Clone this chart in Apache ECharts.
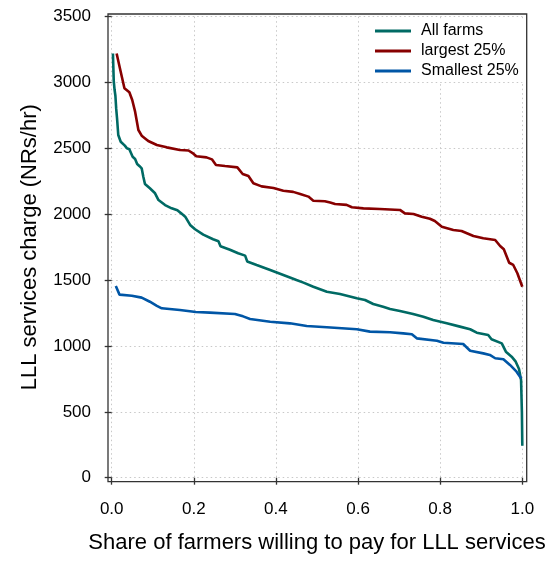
<!DOCTYPE html>
<html>
<head>
<meta charset="utf-8">
<script src="https://cdn.jsdelivr.net/npm/echarts@6/dist/echarts.min.js"></script>
<style>html,body{margin:0;padding:0;background:#fff;}#c{width:551px;height:561px;}</style>
</head>
<body>
<div id="c"></div>
<script>
// ---- data ----
const seriesNames = ['All farms', 'largest 25%', 'Smallest 25%'];
const xTicks = [0, 0.2, 0.4, 0.6, 0.8, 1.0];
const yTicks = [0, 500, 1000, 1500, 2000, 2500, 3000, 3500];

const allX = [0.003, 0.005, 0.007, 0.009, 0.011, 0.013, 0.016, 0.022, 0.032, 0.037, 0.043, 0.046, 0.051, 0.057, 0.062, 0.068, 0.073, 0.077, 0.081, 0.093, 0.105, 0.114, 0.130, 0.146, 0.160, 0.170, 0.179, 0.191, 0.203, 0.223, 0.247, 0.260, 0.265, 0.288, 0.308, 0.325, 0.330, 0.353, 0.386, 0.418, 0.450, 0.467, 0.491, 0.524, 0.556, 0.597, 0.617, 0.637, 0.661, 0.678, 0.702, 0.734, 0.759, 0.783, 0.816, 0.848, 0.873, 0.889, 0.917, 0.925, 0.950, 0.960, 0.974, 0.984, 0.992, 0.997, 0.999, 1.000];
const allY = [3220, 3010, 2945, 2900, 2800, 2729, 2602, 2551, 2521, 2501, 2494, 2483, 2437, 2420, 2382, 2365, 2349, 2285, 2230, 2197, 2162, 2108, 2070, 2045, 2030, 2005, 1982, 1919, 1886, 1845, 1810, 1795, 1757, 1731, 1704, 1686, 1642, 1615, 1577, 1539, 1501, 1481, 1450, 1412, 1395, 1362, 1349, 1319, 1298, 1281, 1266, 1243, 1222, 1197, 1172, 1147, 1127, 1101, 1083, 1051, 1020, 957, 919, 881, 825, 742, 500, 243];

const largeX = [0.012, 0.020, 0.031, 0.043, 0.050, 0.057, 0.065, 0.073, 0.089, 0.110, 0.134, 0.166, 0.187, 0.199, 0.206, 0.231, 0.244, 0.254, 0.276, 0.306, 0.319, 0.333, 0.345, 0.365, 0.394, 0.418, 0.442, 0.459, 0.479, 0.491, 0.519, 0.532, 0.544, 0.572, 0.585, 0.613, 0.653, 0.702, 0.714, 0.735, 0.755, 0.775, 0.787, 0.804, 0.832, 0.852, 0.881, 0.905, 0.934, 0.946, 0.955, 0.968, 0.978, 0.988, 1.000];
const largeY = [3220, 3108, 2957, 2926, 2868, 2779, 2640, 2597, 2556, 2526, 2508, 2488, 2484, 2460, 2440, 2432, 2417, 2374, 2366, 2356, 2306, 2290, 2235, 2212, 2200, 2178, 2170, 2154, 2134, 2103, 2099, 2090, 2078, 2071, 2053, 2045, 2040, 2033, 2007, 2002, 1982, 1966, 1949, 1906, 1881, 1873, 1835, 1818, 1805, 1759, 1734, 1632, 1615, 1552, 1450];

const smallX = [0.010, 0.019, 0.049, 0.073, 0.093, 0.110, 0.122, 0.166, 0.205, 0.239, 0.300, 0.320, 0.337, 0.386, 0.434, 0.475, 0.524, 0.597, 0.629, 0.678, 0.710, 0.731, 0.743, 0.792, 0.808, 0.856, 0.873, 0.905, 0.921, 0.934, 0.954, 0.970, 0.986, 0.997];
const smallY = [1455, 1390, 1382, 1367, 1336, 1305, 1286, 1273, 1258, 1253, 1243, 1225, 1205, 1184, 1172, 1152, 1142, 1127, 1109, 1104, 1096, 1089, 1058, 1040, 1025, 1015, 964, 944, 932, 907, 899, 856, 805, 755];

const colors = ['#006a64', '#870000', '#0056a6'];

function pairs(xs, ys) { return xs.map((x, i) => [x, ys[i]]); }

const FONT = '"Liberation Sans", Arial, Helvetica, sans-serif';
const chart = echarts.init(document.getElementById('c'), null, { renderer: 'canvas' });
const dotted = { show: true, lineStyle: { color: '#c8c8c8', width: 1, type: [1.5, 3] } };

chart.setOption({
  animation: false,
  backgroundColor: '#fff',
  textStyle: { fontFamily: FONT },
  grid: [
    { left: 111.7, right: 28.7, top: 16.7, bottom: 83.3 },
    { left: 108, right: 24.3, top: 14, bottom: 79.3, show: true, borderColor: '#333', borderWidth: 1.3, backgroundColor: 'transparent' }
  ],
  xAxis: [
    {
      type: 'value', gridIndex: 0, min: xTicks[0], max: xTicks[xTicks.length - 1], interval: 0.2,
      offset: 4,
      axisLine: { show: false },
      axisTick: { show: true, length: 7, lineStyle: { color: '#333', width: 1.3 } },
      axisLabel: { fontSize: 17, color: '#000', margin: 19, fontFamily: FONT, formatter: v => v.toFixed(1) },
      splitLine: dotted,
      name: 'Share of farmers willing to pay for LLL services',
      nameLocation: 'middle', nameGap: 50,
      nameTextStyle: { fontSize: 22, color: '#000', fontFamily: FONT }
    },
    { type: 'value', gridIndex: 1, show: false, min: 0, max: 1 }
  ],
  yAxis: [
    {
      type: 'value', gridIndex: 0, min: yTicks[0], max: yTicks[yTicks.length - 1], interval: 500,
      offset: 3.7,
      axisLine: { show: false },
      axisTick: { show: true, length: 7, lineStyle: { color: '#333', width: 1.3 } },
      axisLabel: { fontSize: 17, color: '#000', margin: 17, fontFamily: FONT, formatter: v => String(v) },
      splitLine: dotted,
      name: 'LLL services charge (NRs/hr)',
      nameLocation: 'middle', nameGap: 67,
      nameTextStyle: { fontSize: 22, color: '#000', fontFamily: FONT }
    },
    { type: 'value', gridIndex: 1, show: false, min: 0, max: 1 }
  ],
  legend: {
    data: seriesNames.map(n => ({ name: n, icon: 'rect' })),
    orient: 'vertical',
    left: 370, top: 20,
    itemWidth: 36, itemHeight: 3, itemGap: 0,
    padding: [1, 6, 1, 5],
    backgroundColor: '#fff',
    textStyle: { fontSize: 16, color: '#000', lineHeight: 20, padding: [0, 0, 0, 5], fontFamily: FONT }
  },
  series: [
    { name: seriesNames[0], type: 'line', xAxisIndex: 0, yAxisIndex: 0, data: pairs(allX, allY), symbol: 'none', showSymbol: false, color: colors[0], lineStyle: { width: 2.6, color: colors[0] } },
    { name: seriesNames[1], type: 'line', xAxisIndex: 0, yAxisIndex: 0, data: pairs(largeX, largeY), symbol: 'none', showSymbol: false, color: colors[1], lineStyle: { width: 2.6, color: colors[1] } },
    { name: seriesNames[2], type: 'line', xAxisIndex: 0, yAxisIndex: 0, data: pairs(smallX, smallY), symbol: 'none', showSymbol: false, color: colors[2], lineStyle: { width: 2.6, color: colors[2] } }
  ]
});
</script>
</body>
</html>
